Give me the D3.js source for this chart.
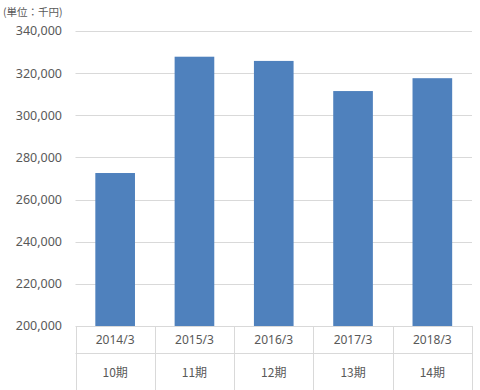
<!DOCTYPE html>
<html>
<head>
<meta charset="utf-8">
<script src="https://cdn.jsdelivr.net/npm/d3@7"></script>
<style>
  body { margin: 0; background: #fff; }
  text { font-family: "Noto Sans", "Noto Sans CJK JP", sans-serif; fill: #595959; }
</style>
</head>
<body>
<main></main>
<script>
const years = ["2014/3", "2015/3", "2016/3", "2017/3", "2018/3"];
const periods = ["10期", "11期", "12期", "13期", "14期"];
const sales = [272600, 327800, 325800, 311500, 317600];
const yTicks = [200000, 220000, 240000, 260000, 280000, 300000, 320000, 340000];
const unitLabel = "(単位：千円)";

const width = 480, height = 390;
const plotLeft = 75.5, plotRight = 472, plotTop = 31, plotBottom = 326;

const svg = d3.select("main").append("svg").attr("width", width).attr("height", height);

const x = d3.scaleBand().domain(years).range([plotLeft, plotRight]).paddingInner(0.5).paddingOuter(0.25);
const y = d3.scaleLinear().domain([200000, 340000]).range([plotBottom, plotTop]);

// gridlines
svg.append("g")
    .selectAll("line")
    .data(yTicks.slice(1))
    .join("line")
    .attr("x1", plotLeft).attr("x2", plotRight)
    .attr("y1", d => Math.round(y(d)) + 0.5).attr("y2", d => Math.round(y(d)) + 0.5)
    .attr("stroke", "#d9d9d9").attr("stroke-width", 1);

// y tick labels
svg.append("g")
    .selectAll("text")
    .data(yTicks)
    .join("text")
    .attr("x", 62)
    .attr("y", d => y(d))
    .attr("dy", "0.35em")
    .attr("text-anchor", "end")
    .attr("font-size", 12.5)
    .text(d3.format(","));

// bars
svg.append("g")
    .selectAll("rect")
    .data(sales)
    .join("rect")
    .attr("x", (d, i) => x(years[i]))
    .attr("width", x.bandwidth())
    .attr("y", d => y(d))
    .attr("height", d => y(200000) - y(d))
    .attr("fill", "#4f81bd");

// category table below axis
const tbl = svg.append("g").attr("stroke", "#d9d9d9").attr("stroke-width", 1);
tbl.append("line").attr("x1", plotLeft).attr("x2", plotRight).attr("y1", plotBottom + 0.5).attr("y2", plotBottom + 0.5);
tbl.append("line").attr("x1", plotLeft).attr("x2", plotRight).attr("y1", 353.5).attr("y2", 353.5);
const edges = d3.range(years.length + 1).map(i => plotLeft + i * (plotRight - plotLeft) / years.length);
tbl.selectAll(".sep")
    .data(edges)
    .join("line")
    .attr("x1", d => Math.round(d) + 0.5).attr("x2", d => Math.round(d) + 0.5)
    .attr("y1", plotBottom).attr("y2", height);

svg.append("g")
    .selectAll("text")
    .data(years)
    .join("text")
    .attr("x", d => x(d) + x.bandwidth() / 2)
    .attr("y", 340)
    .attr("dy", "0.35em")
    .attr("text-anchor", "middle")
    .attr("font-size", 12)
    .text(d => d);

svg.append("g")
    .selectAll("text")
    .data(periods)
    .join("text")
    .attr("x", (d, i) => x(years[i]) + x.bandwidth() / 2)
    .attr("y", 373)
    .attr("dy", "0.35em")
    .attr("text-anchor", "middle")
    .attr("font-size", 12)
    .style("font-family", "'Noto Sans CJK JP', sans-serif")
    .text(d => d);

svg.append("text")
    .attr("x", 3)
    .attr("y", 12)
    .attr("dy", "0.35em")
    .attr("font-size", 10.5)
    .style("font-family", "'Noto Sans CJK JP', sans-serif")
    .text(unitLabel);
</script>
</body>
</html>
